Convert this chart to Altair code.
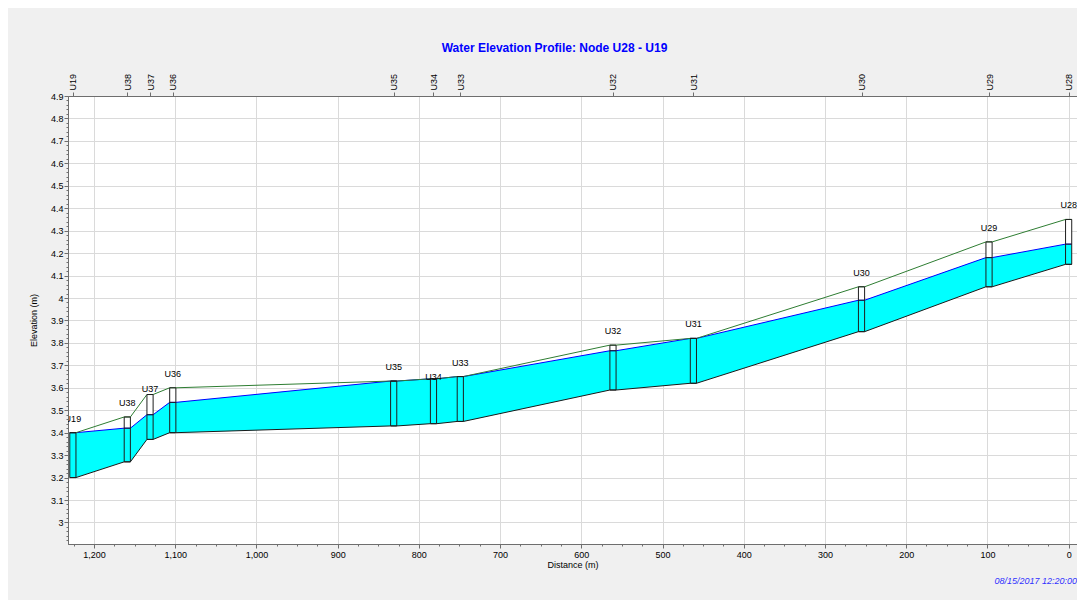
import altair as alt
import numpy as np
import pandas as pd

# ---- data ----
node_names = ["U19", "U38", "U37", "U36", "U35", "U34", "U33", "U32", "U31", "U30", "U29", "U28"]
distance   = [1226, 1159, 1131, 1103, 831, 782, 749, 561, 462, 255, 98, 0]
invert_el  = [3.20, 3.27, 3.37, 3.40, 3.43, 3.44, 3.45, 3.59, 3.62, 3.85, 4.05, 4.15]
water_el   = [3.40, 3.42, 3.48, 3.535, 3.63, 3.64, 3.65, 3.765, 3.82, 3.99, 4.18, 4.24]
top_el     = [3.40, 3.47, 3.57, 3.60, 3.63, 3.64, 3.65, 3.79, 3.82, 4.05, 4.25, 4.35]
title_text = "Water Elevation Profile: Node U28 - U19"
date_text = ["08/15/2017 12:20:00"]

HW = 3.8  # half width of node box (distance units)

nodes = pd.DataFrame({
    "name": node_names, "dist": distance,
    "invert": invert_el, "water": water_el, "top": top_el,
})
nodes["xl"] = nodes["dist"] + HW
nodes["xr"] = nodes["dist"] - HW

edges = pd.concat([
    nodes.assign(x=nodes["xl"]),
    nodes.assign(x=nodes["xr"]),
]).sort_values("x")

W, H = 1009, 448
xs = alt.Scale(domain=[-10.3, 1232], reverse=True, nice=False, zero=False)
ys = alt.Scale(domain=[2.904, 4.9], nice=False, zero=False)

FONT = "Liberation Sans"
AXC = "#6E6E6E"
GRIDC = "#DADADA"

x_ticks = list(range(0, 1226, 25))
y_ticks = [round(v, 2) for v in np.arange(2.92, 4.9001, 0.02)]

x_major = "datum.value % 100 === 0"
y_major = "abs(datum.value*10 - round(datum.value*10)) < 0.000001"

x_axis = alt.Axis(
    values=x_ticks, title="Distance (m)",
    labelExpr=f"{x_major} ? format(datum.value, ',d') : ''",
    grid=True,
    gridColor={"condition": {"test": x_major, "value": GRIDC}, "value": "transparent"},
    tickSize={"condition": {"test": x_major, "value": 4}, "value": 2},
    tickColor=AXC, domainColor=AXC,
    labelFont=FONT, labelFontSize=9, labelColor="#000000", labelPadding=2,
    titleFont=FONT, titleFontSize=9, titleFontWeight="normal", titleColor="#000000",
    titlePadding=1, labelFlush=False, labelOverlap=False,
)
y_axis = alt.Axis(
    values=y_ticks, title="Elevation (m)",
    labelExpr=f"({y_major}) && datum.value > 2.95 ? format(datum.value, '.2~f') : ''",
    grid=True,
    gridColor={"condition": {"test": y_major, "value": GRIDC}, "value": "transparent"},
    tickSize={"condition": {"test": y_major, "value": 4}, "value": 2},
    tickColor=AXC, domainColor=AXC,
    labelFont=FONT, labelFontSize=9, labelColor="#000000", labelPadding=1,
    titleFont=FONT, titleFontSize=9, titleFontWeight="normal", titleColor="#000000",
    titlePadding=12, labelFlush=False, labelOverlap=False,
)

lab_chain = "''"
for n, d in reversed(list(zip(node_names, distance))):
    lab_chain = f"datum.value == {d} ? '{n}' : ({lab_chain})"

top_axis = alt.Axis(
    orient="top", values=distance, labelExpr=lab_chain, title=None, grid=False,
    labelAngle=270, tickSize=4, tickColor=AXC, domainColor=AXC,
    labelFont=FONT, labelFontSize=9, labelColor="#000000", labelPadding=2,
    labelFlush=False, labelOverlap=False,
)

base_e = alt.Chart(edges)
base_n = alt.Chart(nodes)

area = base_e.mark_area(color="#00FFFF", opacity=1, clip=True).encode(
    x=alt.X("x:Q", scale=xs, axis=x_axis),
    y=alt.Y("invert:Q", scale=ys, axis=y_axis),
    y2="water:Q",
)

def line(field, color):
    return base_e.mark_line(color=color, strokeWidth=1, clip=True).encode(
        x=alt.X("x:Q", scale=xs, axis=None),
        y=alt.Y(f"{field}:Q", scale=ys, axis=None),
    )

inv_line = line("invert", "#1A1A1A")
wat_line = line("water", "#0000FF")
top_line = line("top", "#2E7D32")

white_box = base_n.mark_rect(color="#FFFFFF", clip=True).encode(
    x=alt.X("xl:Q", scale=xs, axis=None), x2="xr:Q",
    y=alt.Y("water:Q", scale=ys, axis=None), y2="top:Q",
)
box_outline = base_n.mark_rect(fillOpacity=0, stroke="#1E1E1E", strokeWidth=1, clip=True).encode(
    x=alt.X("xl:Q", scale=xs, axis=None), x2="xr:Q",
    y=alt.Y("invert:Q", scale=ys, axis=None), y2="top:Q",
)
water_tick = base_n.mark_rule(color="#1E1E1E", strokeWidth=1, clip=True).encode(
    x=alt.X("xl:Q", scale=xs, axis=None), x2="xr:Q",
    y=alt.Y("water:Q", scale=ys, axis=None),
)

def labels(filter_expr, dy):
    return base_n.transform_filter(filter_expr).mark_text(
        font=FONT, fontSize=9, color="#000000", dy=dy, baseline="middle", clip=True
    ).encode(
        x=alt.X("dist:Q", scale=xs, axis=None),
        y=alt.Y("top:Q", scale=ys, axis=None),
        text="name:N",
    )

lab_main = labels("datum.name != 'U34' && datum.name != 'U37'", -14)
lab_u37 = labels("datum.name == 'U37'", -6)
lab_u34 = labels("datum.name == 'U34'", -2)

top_ax_layer = base_n.mark_point(opacity=0).encode(
    x=alt.X("dist:Q", scale=xs, axis=top_axis),
    y=alt.Y("top:Q", scale=ys, axis=None),
)

date_layer = alt.Chart(pd.DataFrame({"t": date_text})).mark_text(
    font=FONT, fontSize=9, fontStyle="italic", color="#3030FF", align="right", baseline="middle"
).encode(
    x=alt.value(W), y=alt.value(H + 37), text="t:N"
)

chart = alt.layer(
    area, white_box, inv_line, wat_line, top_line, water_tick, box_outline,
    lab_main, lab_u37, lab_u34, top_ax_layer, date_layer,
).resolve_axis(x="independent", y="independent").properties(
    width=W, height=H,
    title=alt.TitleParams(title_text, color="#0000FF", fontSize=12, font=FONT,
                          fontWeight="bold", dx=-18, offset=18, anchor="middle"),
    autosize=alt.AutoSizeParams(type="none"),
    padding={"left": 60, "top": 88, "right": 0, "bottom": 56},
    background="#F0F0F0",
).configure_view(
    fill="#FFFFFF", stroke=AXC, strokeWidth=1,
)

chart.save("out.html", embed_options={"renderer": "svg", "actions": False})
